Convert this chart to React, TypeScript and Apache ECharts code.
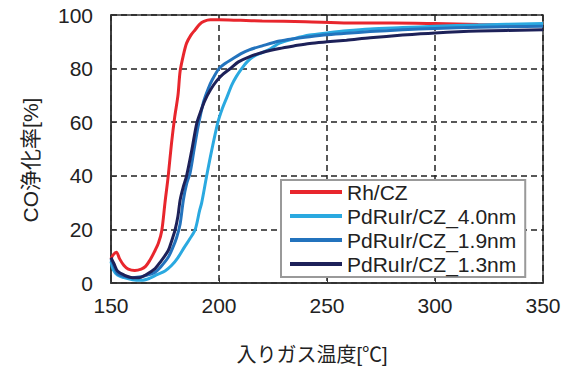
import React, { useEffect, useRef } from "react";
import * as echarts from "echarts";

const seriesNames = ["Rh/CZ", "PdRuIr/CZ_4.0nm", "PdRuIr/CZ_1.9nm", "PdRuIr/CZ_1.3nm"];
const seriesColors = ["#e8262d", "#2aa9e0", "#2373bd", "#1d2159"];

const xTicks = [150, 200, 250, 300, 350];
const yTicks = [0, 20, 40, 60, 80, 100];

const rhCZ: [number, number][] = [
  [150, 9], [151, 10.5], [152.5, 11.5], [154, 9], [156, 6.5], [158, 5.2], [161, 4.7], [164, 5.2],
  [166, 6.2], [168, 8.5], [170, 11.5], [172, 15], [173.5, 19.5], [175, 30], [176.5, 40], [178, 52],
  [179.5, 62], [181, 70], [182, 79], [183.5, 85], [185, 89.5], [187, 92.5], [189, 94.5], [191, 96.5],
  [193, 97.6], [196, 98.2], [200, 98.2], [210, 98], [220, 97.8], [240, 97.5], [260, 97], [280, 97],
  [300, 96.8], [320, 96.5], [350, 96.3],
];

const pd40: [number, number][] = [
  [150, 8], [151, 5], [153, 3], [156, 2], [160, 1.2], [164, 1], [168, 1.8], [171, 3], [175, 4.5],
  [178, 6.5], [181, 9.5], [184, 13.4], [186.5, 16.5], [189, 20], [191, 27], [192, 30], [194.3, 40],
  [196.5, 49], [199.5, 60], [201.5, 65], [203.5, 69], [206, 74], [208, 77], [210.5, 80], [213, 82.5],
  [216, 84.5], [220, 86], [224, 87.5], [228, 89.5], [235, 91.2], [242, 92.5], [250, 93.3], [259, 94.1],
  [270, 94.8], [285, 95.3], [300, 95.8], [320, 96.3], [350, 96.8],
];

const pd19: [number, number][] = [
  [150, 9], [151.5, 6], [153, 3.5], [156, 2.5], [160, 2], [164, 2.3], [168, 3.2], [170.4, 4], [173, 6],
  [176.5, 9.6], [178.5, 13], [180.4, 17], [182, 22], [183.5, 31], [185, 37], [186.6, 41], [188.5, 50],
  [190, 57], [191.5, 63], [193, 68], [195, 72.5], [197, 76], [200, 80], [203, 82], [206, 83.5],
  [210, 85.5], [214, 87], [220, 88.5], [228, 90.3], [235, 91.2], [242, 91.9], [250, 92.6], [259, 93.2],
  [270, 93.8], [285, 94.5], [300, 95], [320, 95.4], [350, 95.8],
];

const pd13: [number, number][] = [
  [150, 9.5], [151.5, 7], [153, 4.5], [156, 3], [160, 2], [163, 2], [166, 3], [170.4, 5.4], [173, 8],
  [176.5, 12.1], [178, 15.5], [179.6, 19.6], [181, 25], [182, 31], [183.5, 36], [185, 40], [187.5, 50],
  [189.7, 59.6], [191.5, 64], [193.4, 68], [196, 72], [199, 75.5], [202, 78], [205.5, 80.2], [209, 82.5],
  [214, 84.4], [220, 86], [228, 87.5], [235, 88.5], [242, 89.4], [250, 90], [259, 90.6], [270, 91.5],
  [285, 92.5], [300, 93.3], [320, 94], [350, 94.5],
];

const seriesData = [rhCZ, pd40, pd19, pd13];

const xAxisTitle = "入りガス温度[℃]";
const yAxisTitle = "CO浄化率[%]";

const FONT = "'Liberation Sans', Arial, 'Noto Sans CJK JP', sans-serif";

export default function App() {
  const ref = useRef<HTMLDivElement>(null);
  useEffect(() => {
    if (!ref.current) return;
    const chart = echarts.init(ref.current, null, { renderer: "svg" });
    chart.setOption({
      animation: false,
      backgroundColor: "#ffffff",
      grid: {
        left: 111,
        right: 22,
        top: 15,
        bottom: 84,
        show: true,
        borderColor: "#333",
        borderWidth: 1.5,
        backgroundColor: "transparent",
      },
      xAxis: {
        type: "value",
        min: xTicks[0],
        max: xTicks[xTicks.length - 1],
        interval: 50,
        axisLine: { show: true, lineStyle: { color: "#333", width: 1.5 } },
        axisTick: { show: true, inside: true, length: 5, lineStyle: { color: "#333" } },
        splitLine: { show: true, lineStyle: { color: "#222", type: [6, 4], width: 1.5 } },
        axisLabel: { color: "#222", fontSize: 21, fontFamily: FONT, margin: 12 },
      },
      yAxis: {
        type: "value",
        min: yTicks[0],
        max: yTicks[yTicks.length - 1],
        interval: 20,
        axisLine: { show: true, lineStyle: { color: "#333", width: 1.5 } },
        axisTick: { show: true, inside: true, length: 5, lineStyle: { color: "#333" } },
        splitLine: { show: true, lineStyle: { color: "#222", type: [6, 4], width: 1.5 } },
        axisLabel: { color: "#222", fontSize: 21, fontFamily: FONT, margin: 18 },
      },
      legend: {
        orient: "vertical",
        left: 281,
        top: 180,
        itemGap: 0,
        itemWidth: 52,
        itemHeight: 4,
        icon: "rect",
        padding: [0, 9, 1, 9],
        backgroundColor: "#ffffff",
        borderColor: "#999",
        borderWidth: 2,
        borderRadius: 0,
        textStyle: { fontSize: 21, lineHeight: 24, color: "#222", fontFamily: FONT },
        data: seriesNames,
      },
      graphic: [
        {
          type: "text",
          x: 312,
          y: 355,
          style: {
            text: xAxisTitle,
            fontSize: 20,
            fontFamily: FONT,
            fill: "#222",
            textAlign: "center",
            textVerticalAlign: "middle",
          },
        },
        {
          type: "text",
          x: 30,
          y: 160,
          rotation: Math.PI / 2,
          style: {
            text: yAxisTitle,
            fontSize: 21,
            fontFamily: FONT,
            fill: "#222",
            textAlign: "center",
            textVerticalAlign: "middle",
          },
        },
      ],
      series: seriesNames.map((name, i) => ({
        name,
        type: "line",
        data: seriesData[i],
        symbol: "none",
        smooth: 0.3,
        color: seriesColors[i],
        lineStyle: { color: seriesColors[i], width: 3 },
        z: 2 + i,
      })),
    });
    return () => chart.dispose();
  }, []);
  return <div ref={ref} style={{ width: 565, height: 367, position: "absolute", left: 0, top: 0 }} />;
}
